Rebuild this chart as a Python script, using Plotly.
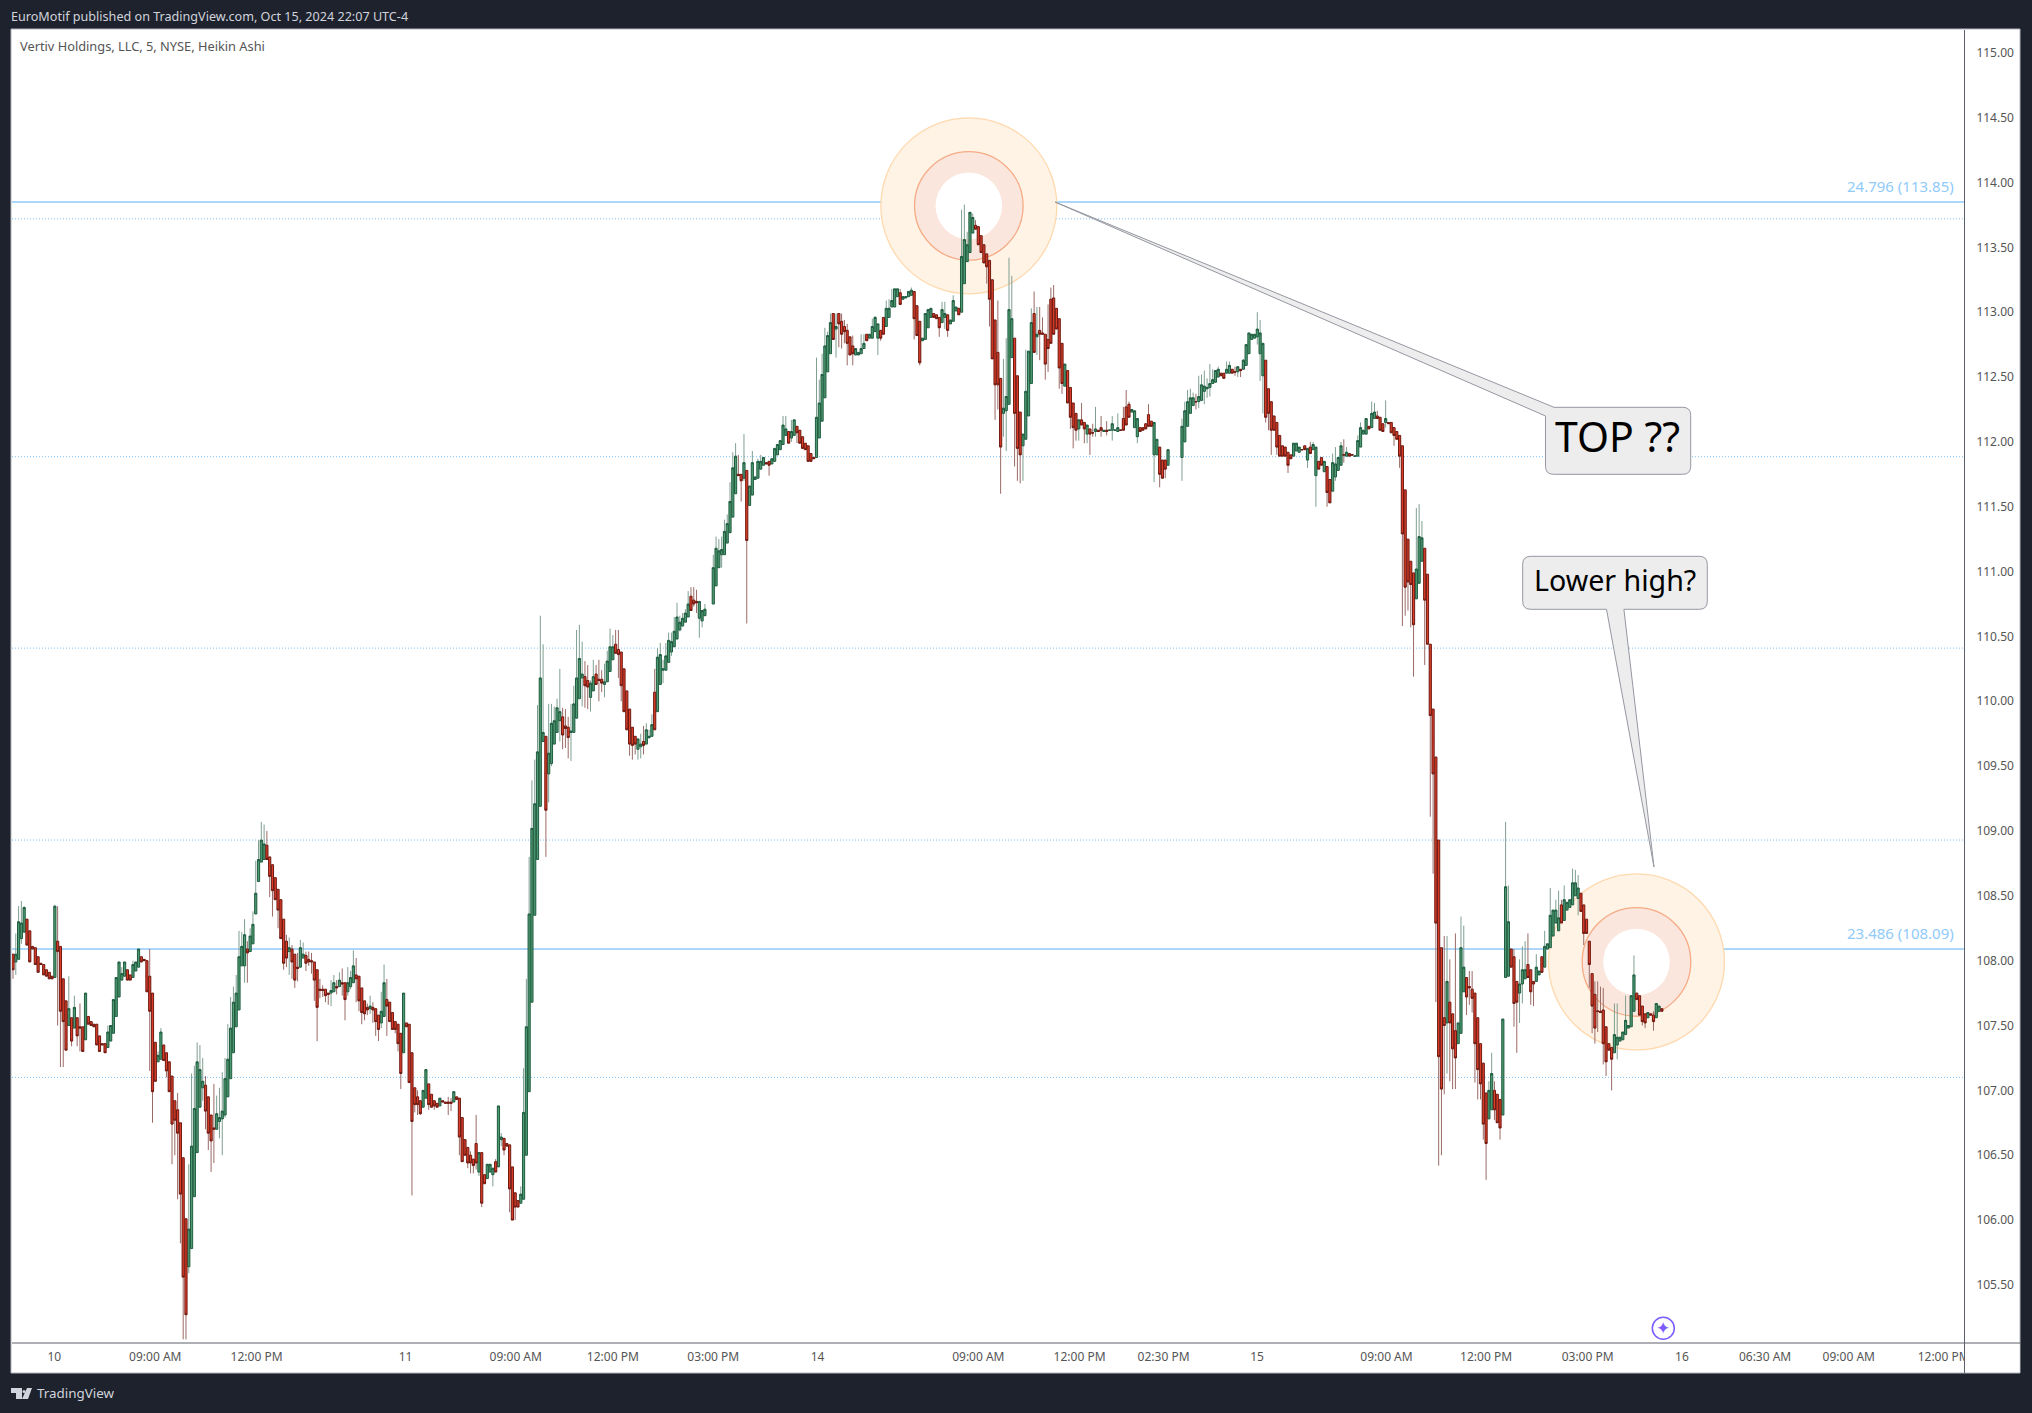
import numpy as np
import plotly.graph_objects as go

_ = None

# ---- Oct 10 -------------------------------------------------------------
s1_start = 0
s1_dir = "RGGGGRRRRR" "RRRRRGRRRR" "GRGRRRGRRR" "RRRRGGGGGG" "GRRGGGRRRR" "RRGGRRRRRR" "RRRGGGGGGR" "RRRGGGGGGG" "GGGGRGGGGG" "GRRRRRRRRG" "RRR"
s1_top = [108.05,108.05,108.30,108.29,108.41,108.32,108.23,108.11,108.10,108.03,
107.98,107.97,107.93,107.91,107.88,108.42,108.15,108.11,107.86,107.69,
107.63,107.56,107.64,107.56,107.49,107.49,107.75,107.57,107.53,107.51,
107.51,107.42,107.36,107.36,107.45,107.50,107.70,107.87,107.99,107.90,
107.99,107.93,107.89,107.97,107.99,108.09,108.03,108.01,108.00,107.88,
107.75,107.37,107.27,107.45,107.35,107.29,107.22,107.11,106.92,106.85,
106.75,106.48,106.01,105.93,106.57,106.86,107.22,107.16,107.07,107.04,
106.95,106.81,106.71,106.82,106.79,106.84,107.09,107.24,107.48,107.68,
107.75,108.03,108.11,108.20,108.09,108.19,108.28,108.52,108.78,108.93,
108.90,108.89,108.80,108.74,108.64,108.55,108.47,108.32,108.15,108.10,
108.09,108.05,107.95]
s1_bot = [107.93,107.99,108.01,108.17,108.22,108.12,107.99,108.09,107.97,107.91,
107.97,107.89,107.88,107.86,107.86,107.87,108.07,107.61,107.53,107.31,
107.50,107.38,107.48,107.42,107.48,107.30,107.39,107.51,107.50,107.49,
107.35,107.30,107.35,107.29,107.33,107.38,107.44,107.57,107.72,107.85,
107.88,107.85,107.85,107.87,107.92,107.95,107.99,108.00,107.76,107.61,
106.99,107.07,107.22,107.24,107.23,107.15,106.99,106.74,106.77,106.67,
106.20,105.56,105.27,105.64,105.78,106.18,106.52,106.87,107.02,106.84,
106.67,106.61,106.70,106.70,106.76,106.78,106.81,106.95,107.09,107.29,
107.49,107.62,107.96,107.96,108.06,108.07,108.13,108.36,108.61,108.76,
108.78,108.78,108.65,108.54,108.47,108.39,108.17,107.98,108.02,108.07,
107.99,107.85,107.94]
s1_high = [_,108.21,108.42,108.46,108.42,_,_,_,_,_,
_,_,_,_,_,108.43,108.42,_,_,_,
107.88,_,107.73,_,107.67,_,_,_,_,_,
_,_,_,_,107.50,_,_,_,_,107.95,
_,_,_,108.00,_,_,_,_,_,108.09,
_,_,107.30,107.48,_,_,_,_,_,106.98,
_,_,_,106.43,107.13,107.19,107.37,107.35,107.25,107.11,
_,_,107.05,106.96,107.02,107.14,107.25,107.51,107.72,107.80,
107.89,108.23,108.22,108.32,108.15,108.25,108.38,108.77,108.93,109.07,
109.05,109.00,_,_,_,_,_,_,108.20,108.18,
108.12,_,108.06]
s1_low = [107.86,107.89,_,108.13,_,_,_,_,_,_,
_,_,_,_,_,_,107.50,107.18,107.18,_,
_,107.34,_,107.34,107.30,_,_,_,_,_,
_,_,_,_,_,_,_,_,_,_,
_,_,_,_,_,_,_,_,_,107.15,
106.75,_,_,_,_,107.10,_,106.43,106.50,106.16,
105.82,105.08,105.08,105.59,_,_,_,_,106.92,106.70,
106.54,106.37,106.44,_,106.63,106.50,106.79,_,_,_,
_,_,_,107.83,107.83,_,_,_,_,_,
_,_,108.49,108.34,_,108.25,_,107.93,107.95,107.89,
107.86,107.79,107.84]

# ---- Oct 10 close to Oct 11 open ----------------------------------------
s2_start = 103
s2_dir = "GGRRRRRRRR" "RGGRGRRGGG" "RRRRRGRRRG" "GRRRRRRGRR" "RRRRGGRRRR" "GRRRRGRRRR" "RRRRGRRGGG" "RGGRRRRRRG" "GGGGG"
s2_top = [108.10,108.05,108.04,108.01,108.00,107.99,107.93,107.78,107.78,107.78,
107.75,107.77,107.83,107.80,107.85,107.83,107.83,107.83,107.87,107.96,
107.89,107.88,107.79,107.69,107.64,107.65,107.64,107.63,107.58,107.61,
107.83,107.70,107.68,107.60,107.53,107.51,107.44,107.75,107.52,107.51,
107.29,107.02,106.95,106.92,107.00,107.16,107.05,106.97,106.92,106.90,
106.94,106.92,106.91,106.91,106.91,106.99,106.95,106.94,106.79,106.62,
106.56,106.50,106.47,106.59,106.52,106.52,106.35,106.43,106.43,106.40,
106.45,106.88,106.64,106.63,106.59,106.58,106.41,106.21,106.15,106.20,
106.83,107.49,108.36,109.02,109.21]
s2_bot = [107.95,108.02,107.98,107.99,107.99,107.85,107.64,107.77,107.77,107.73,
107.74,107.75,107.76,107.79,107.80,107.82,107.70,107.76,107.80,107.83,
107.86,107.69,107.60,107.59,107.62,107.63,107.62,107.53,107.47,107.52,
107.57,107.65,107.53,107.47,107.47,107.36,107.13,107.29,107.49,107.06,
106.76,106.89,106.89,106.82,106.87,106.94,106.89,106.87,106.88,106.87,
106.88,106.91,106.90,106.90,106.90,106.91,106.93,106.64,106.45,106.50,
106.44,106.44,106.42,106.44,106.37,106.13,106.28,106.32,106.37,106.35,
106.37,106.41,106.62,106.54,106.57,106.24,106.00,106.10,106.10,106.13,
106.16,106.50,106.99,107.68,108.35]
s2_high = [108.16,108.14,108.07,108.07,108.06,_,_,107.86,107.81,_,
_,107.85,107.89,107.85,107.91,107.94,_,107.95,107.92,108.08,
108.02,_,_,_,107.67,107.73,107.68,_,_,107.76,
107.97,107.86,_,_,_,_,_,_,_,_,
_,_,107.00,_,_,_,_,_,_,_,
_,_,_,106.95,106.94,_,_,_,_,_,
_,106.53,_,106.81,_,_,_,_,_,_,
106.47,_,106.67,_,_,_,_,_,_,106.26,
107.17,107.86,108.80,109.39,109.55]
s2_low = [_,_,107.92,107.96,107.90,107.69,107.38,107.71,107.72,107.68,
107.66,107.65,_,107.74,_,107.73,107.54,107.73,107.78,_,
107.68,107.61,107.51,107.54,107.58,107.59,107.52,107.42,107.38,107.48,
_,107.42,_,_,107.44,107.30,107.01,_,_,_,
106.19,106.83,106.81,106.81,_,_,106.85,_,106.85,_,
_,_,_,106.81,106.84,_,_,106.50,_,_,
106.40,106.36,106.36,106.39,106.34,106.10,_,_,_,106.26,
_,_,106.57,106.50,_,106.06,_,106.00,_,_,
_,_,_,_,_]

# ---- Oct 11 midday ------------------------------------------------------
s3_start = 188
s3_dir = "GGGRGGGGGR" "RRGGGGGRRG" "GRRRGGGGRR" "RRRRRRGGRG" "GGRGGGGGGG" "GGGGGRRRGG" "G"
s3_top = [109.61,110.18,109.76,109.73,109.60,109.83,109.85,109.95,109.92,109.88,
109.81,109.80,109.77,109.98,110.18,110.33,110.21,110.19,110.16,110.14,
110.19,110.21,110.17,110.17,110.15,110.31,110.42,110.42,110.44,110.40,
110.38,110.25,110.08,109.94,109.80,109.73,109.71,109.67,109.69,109.78,
109.73,109.82,110.07,110.34,110.36,110.25,110.35,110.47,110.46,110.54,
110.65,110.61,110.64,110.68,110.75,110.81,110.78,110.77,110.77,110.70,
110.71,110.70,110.81]
s3_bot = [108.78,109.19,109.69,109.16,109.44,109.52,109.67,109.76,109.85,109.74,
109.79,109.72,109.76,109.76,109.87,110.02,110.18,110.12,110.11,110.03,
110.08,110.13,110.16,110.14,110.13,110.15,110.23,110.32,110.37,110.36,
110.12,109.92,109.78,109.67,109.66,109.67,109.63,109.65,109.66,109.67,
109.72,109.73,109.78,109.92,110.13,110.24,110.24,110.30,110.38,110.42,
110.48,110.55,110.58,110.61,110.65,110.70,110.75,110.76,110.64,110.62,
110.66,110.68,110.69]
s3_high = [109.97,110.66,110.44,_,109.98,109.98,109.96,110.02,110.25,109.95,
109.94,109.88,109.98,110.12,110.55,110.59,110.46,110.31,110.28,110.16,
110.32,110.28,110.32,110.24,110.29,110.39,110.56,110.51,110.55,110.55,
_,_,_,_,_,_,_,109.75,109.81,109.83,
109.78,109.90,110.25,110.41,110.45,110.32,110.45,110.53,110.53,110.65,
110.76,110.66,110.68,110.71,110.85,110.88,110.88,110.86,_,_,
110.75,110.75,110.88]
s3_low = [_,_,_,108.80,109.22,109.50,_,_,109.69,109.63,
109.64,109.56,109.54,_,_,_,109.96,109.95,109.94,109.92,
_,_,110.00,110.07,110.03,_,_,_,_,110.18,
110.00,_,_,109.58,109.55,109.59,109.55,109.56,109.59,_,
109.71,_,_,_,_,110.14,_,_,110.35,_,
_,110.54,_,_,_,_,110.73,110.68,110.49,110.57,
_,110.65,_]

# ---- Oct 11 close to Oct 14 morning -------------------------------------
s4_start = 251
s4_dir = "GGGGGGGGGR" "RGRGGGGGGR" "RGGGGGGRGG" "RRRRRRRGGG" "GGGRGRRRRR" "RGGGGRGGGG" "RRG"
s4_top = [111.03,111.18,111.16,111.17,111.31,111.37,111.54,111.80,111.89,111.75,
111.75,111.84,111.78,111.66,111.84,111.73,111.85,111.85,111.88,111.84,
111.85,111.87,111.95,111.98,112.01,112.13,112.10,112.08,112.08,112.17,
112.12,112.09,112.04,111.99,111.97,111.91,111.88,112.19,112.30,112.52,
112.74,112.82,112.92,112.99,112.89,112.99,112.93,112.89,112.86,112.81,
112.74,112.72,112.69,112.72,112.76,112.83,112.83,112.89,112.96,112.91,
112.86,112.96,113.03]
s4_bot = [110.75,110.89,111.03,111.13,111.13,111.22,111.30,111.42,111.60,111.74,
111.70,111.72,111.24,111.51,111.59,111.71,111.72,111.79,111.82,111.83,
111.82,111.83,111.85,111.90,111.94,111.98,112.05,111.99,112.03,112.05,
112.07,111.99,111.95,111.94,111.85,111.85,111.87,111.88,112.03,112.16,
112.34,112.54,112.68,112.79,112.87,112.91,112.83,112.85,112.76,112.67,
112.68,112.67,112.67,112.68,112.72,112.78,112.80,112.80,112.85,112.80,
112.80,112.83,112.89]
s4_high = [111.13,111.27,111.25,111.27,111.40,111.44,111.69,111.92,111.99,111.90,
_,112.06,_,_,111.93,_,111.87,111.90,_,_,
_,_,_,_,_,112.20,112.20,_,112.17,_,
_,_,_,_,_,_,_,112.65,112.48,112.68,
112.88,112.85,112.99,_,112.99,_,112.99,112.94,112.91,_,
112.82,_,_,112.83,112.83,_,_,112.95,112.97,_,
_,_,113.09]
s4_low = [_,_,_,111.03,_,_,_,_,_,_,
111.54,111.70,110.60,_,_,_,_,_,_,_,
111.74,_,_,_,_,_,_,_,112.00,_,
111.99,_,_,_,_,_,_,_,_,_,
_,_,_,_,112.65,112.73,112.72,112.76,112.59,_,
112.59,_,_,_,_,_,_,_,_,112.67,
112.78,_,_]

# ---- Oct 14 session -----------------------------------------------------
s5_start = 314
s5_dir = "GGGGRGGGGR" "RRGGGGRRRG" "GRGGGRGGGG" "GRRRRRRRRR" "RGGGGRRRGG" "GGRGRRRRRR" "RRRGRRRRGR" "RGRRGRRGRG" "GGGRRRRGGG" "RRRRRGGRRR" "G"
s5_top = [113.03,113.09,113.18,113.18,113.15,113.12,113.12,113.16,113.17,113.16,
113.05,112.93,112.80,112.99,113.02,113.03,112.99,112.98,112.96,113.02,
112.99,112.98,112.94,113.09,113.04,113.03,113.43,113.56,113.52,113.77,
113.73,113.67,113.66,113.59,113.52,113.45,113.40,113.25,112.94,112.69,
112.49,112.26,112.35,113.02,112.95,112.80,112.51,112.23,112.06,112.39,
112.70,112.92,112.99,112.83,112.86,112.84,112.83,112.79,113.10,113.11,
113.03,112.95,112.76,112.60,112.55,112.42,112.30,112.22,112.17,112.17,
112.15,112.13,112.10,112.07,112.10,112.09,112.11,112.09,112.09,112.09,
112.14,112.09,112.11,112.09,112.18,112.27,112.29,112.25,112.24,112.18,
112.11,112.11,112.14,112.21,112.16,112.15,112.02,111.96,111.86,111.86,
111.94,111.88,111.88,111.84,111.92]
s5_bot = [112.96,113.04,113.04,113.12,113.06,113.10,113.11,113.12,113.13,112.95,
112.82,112.61,112.78,112.79,112.88,112.96,112.96,112.95,112.88,112.92,
112.96,112.86,112.91,112.93,113.01,112.98,113.00,113.22,113.39,113.46,
113.61,113.64,113.52,113.46,113.38,113.35,113.10,112.64,112.44,112.44,
111.96,112.22,112.24,112.29,112.65,112.22,111.95,111.90,111.97,112.02,
112.20,112.45,112.69,112.81,112.83,112.83,112.60,112.72,112.76,112.83,
112.87,112.57,112.45,112.43,112.30,112.19,112.11,112.09,112.10,112.13,
112.10,112.06,112.06,112.07,112.08,112.08,112.09,112.08,112.08,112.09,
112.09,112.09,112.08,112.09,112.09,112.13,112.19,112.23,112.11,112.04,
112.08,112.09,112.10,112.12,112.12,111.90,111.90,111.75,111.72,111.79,
111.82,111.88,111.81,111.81,111.83]
s5_high = [113.10,113.18,_,_,113.18,_,_,_,113.19,_,
_,_,_,_,_,_,_,_,_,113.08,
113.08,_,_,113.13,_,_,113.79,113.83,113.62,_,
113.76,113.71,_,_,_,_,_,_,_,113.09,
_,112.64,112.80,113.42,113.28,_,_,_,_,112.71,
_,113.03,113.16,113.04,113.04,112.96,_,113.06,113.19,113.21,
_,_,_,_,_,_,_,_,_,112.30,
_,_,_,112.14,112.27,_,112.20,_,112.16,_,
112.20,_,112.22,_,112.27,112.40,112.31,_,_,_,
_,_,_,112.29,_,_,_,_,_,_,
_,_,111.98,_,_]
s5_low = [_,_,_,_,_,_,_,_,_,112.79,
_,112.59,_,_,_,_,_,_,112.81,_,
112.87,112.81,_,_,_,_,_,_,_,_,
_,_,_,_,_,113.22,112.89,_,112.17,112.25,
111.60,112.04,111.93,_,_,111.81,111.70,111.68,111.70,_,
_,_,_,112.67,112.63,_,112.48,112.54,_,_,
_,112.41,112.37,_,_,112.10,111.95,112.01,112.01,_,
111.99,111.99,111.90,112.04,112.04,_,112.04,_,112.05,_,
112.01,_,_,_,_,_,_,_,_,111.99,
_,_,_,_,_,111.69,_,111.65,_,111.72,
_,_,_,111.66,_]

# ---- Oct 14 close to Oct 15 midday --------------------------------------
s6_start = 419
s6_dir = "GGGGGRGGGG" "GGGGRRGGRR" "GRGGGGGGGG" "RRRRRRRRRR" "GGGRRGRGGR" "RGRRGGGGRG" "RRGGGGGRGG" "RRRGRRRRRR" "RRRRGGGR"
s6_top = [112.12,112.24,112.31,112.34,112.34,112.31,112.35,112.44,112.43,112.42,
112.45,112.48,112.55,112.56,112.53,112.53,112.56,112.59,112.56,112.54,
112.58,112.56,112.63,112.75,112.84,112.83,112.83,112.87,112.84,112.76,
112.63,112.41,112.31,112.20,112.15,112.05,111.97,111.96,111.92,111.90,
111.99,111.99,111.96,111.94,111.97,111.95,111.96,111.98,111.96,111.85,
111.88,111.85,111.81,111.71,111.84,111.83,111.88,111.97,111.90,111.92,
111.91,111.90,111.89,112.01,112.11,112.09,112.18,112.12,112.22,112.23,
112.20,112.19,112.14,112.18,112.15,112.15,112.11,112.08,112.05,111.97,
111.63,111.25,111.08,110.99,111.02,111.27,111.26,111.18]
s6_bot = [111.88,112.00,112.12,112.22,112.28,112.31,112.31,112.32,112.39,112.41,
112.42,112.45,112.46,112.50,112.51,112.49,112.53,112.53,112.53,112.54,
112.54,112.55,112.56,112.59,112.68,112.79,112.80,112.81,112.68,112.51,
112.19,112.22,112.09,112.09,111.96,111.89,111.89,111.89,111.82,111.87,
111.89,111.93,111.92,111.94,111.94,111.86,111.91,111.94,111.74,111.79,
111.82,111.77,111.61,111.53,111.62,111.73,111.78,111.82,111.90,111.89,
111.89,111.90,111.89,111.89,111.96,112.06,112.06,112.10,112.11,112.18,
112.18,112.09,112.08,112.15,112.14,112.07,112.05,112.02,111.89,111.29,
110.88,110.92,110.90,110.59,110.79,110.91,111.08,110.78]
s6_high = [112.18,112.31,112.40,112.41,112.38,112.37,112.51,112.52,112.55,112.49,
112.60,112.56,_,112.58,_,_,112.62,112.62,_,112.58,
_,_,112.64,_,_,_,_,113.00,112.94,_,
_,_,_,_,_,_,_,_,_,_,
_,_,_,_,_,_,112.00,112.00,_,_,
_,_,_,_,111.91,111.96,_,112.00,112.02,111.96,
_,_,_,112.05,112.15,_,_,_,112.31,112.30,
112.24,_,_,112.32,_,_,_,_,_,_,
_,_,_,_,111.49,111.52,111.39,_]
s6_low = [111.70,_,_,_,_,112.25,112.26,_,112.29,112.34,
112.35,_,_,_,_,_,_,_,_,112.51,
112.50,112.50,_,_,_,_,_,112.75,112.47,112.22,
112.15,112.09,111.90,_,111.90,_,_,_,111.76,_,
_,_,_,_,_,111.80,_,_,111.50,_,
_,_,111.50,_,_,111.70,_,_,111.84,_,
_,_,_,_,_,_,_,_,_,_,
_,_,_,112.11,_,_,111.97,_,111.80,110.58,
110.66,110.70,110.57,110.19,_,_,_,110.28]

# ---- Oct 15 afternoon ---------------------------------------------------
s7_start = 507
s7_dir = "RRRRRRRG" "RRRGGGRRRR" "RRRRGGRRRG" "GGRRRGGGRR" "RGGRGGGGGG" "RGGGGGGRRR" "R"
s7_top = [110.98,110.44,109.94,109.57,108.93,108.10,107.56,107.84,
107.68,107.59,107.46,107.52,108.10,107.95,107.87,107.80,107.78,107.75,
107.56,107.36,107.21,106.98,107.00,107.13,107.00,106.97,106.93,107.55,
108.57,108.30,108.09,108.03,107.84,107.82,107.93,107.93,107.97,107.93,
107.84,107.95,107.92,108.03,108.11,108.13,108.35,108.39,108.39,108.33,
108.43,108.47,108.45,108.47,108.60,108.60,108.56,108.52,108.43]
s7_bot = [110.44,109.89,109.44,108.29,107.26,107.01,107.50,107.52,
107.52,107.32,107.25,107.36,107.44,107.76,107.72,107.79,107.71,107.36,
107.16,107.05,106.74,106.59,106.78,106.85,106.85,106.75,106.71,106.81,
107.87,107.88,107.95,107.67,107.68,107.75,107.82,107.86,107.87,107.76,
107.82,107.84,107.89,107.91,107.95,108.09,108.10,108.19,108.29,108.23,
108.29,108.31,108.39,108.41,108.43,108.50,108.48,108.38,108.21]
s7_high = [_,_,_,_,_,_,108.19,108.19,
108.01,_,108.21,_,108.34,108.27,_,107.92,107.92,_,
_,_,_,_,107.07,107.29,107.07,_,_,_,
109.07,108.58,_,108.09,_,108.01,108.11,108.15,108.21,_,
_,108.05,_,_,108.23,_,108.56,_,108.47,108.54,
108.47,108.58,_,_,108.71,108.70,108.66,_,_]
s7_low = [_,109.11,108.67,107.68,106.42,106.50,106.97,107.13,
107.07,107.01,107.01,_,_,_,107.58,107.66,107.60,107.06,
106.93,106.93,106.62,106.31,_,_,106.77,_,106.62,_,
_,_,_,107.49,107.29,107.52,107.67,_,_,107.66,
107.65,_,_,_,_,_,_,_,_,_,
_,_,_,_,_,_,108.35,_,108.12]

# ---- Oct 15 last bars ---------------------------------------------------
s8_start = 564
s8_dir = "RRRRRRRRRR" "GGGGGGGGRR" "RRGRRGGR"
s8_top = [108.32,108.15,107.90,107.74,107.61,107.61,107.62,107.49,107.36,107.33,
107.43,107.41,107.41,107.45,107.54,107.50,107.73,107.89,107.75,107.73,
107.65,107.59,107.60,107.59,107.58,107.67,107.65,107.63]
s8_bot = [108.21,107.97,107.65,107.48,107.61,107.60,107.36,107.22,107.31,107.24,
107.29,107.35,107.38,107.39,107.43,107.48,107.49,107.61,107.70,107.58,
107.53,107.52,107.56,107.58,107.53,107.56,107.61,107.61]
s8_high = [_,_,_,107.84,107.84,107.80,107.79,_,_,_,
107.67,107.67,_,_,107.73,_,_,108.04,_,_,
_,_,_,_,107.61,_,_,_]
s8_low = [_,107.79,107.44,107.36,107.45,_,107.20,107.11,_,107.00,
_,107.24,_,_,_,_,_,_,_,_,
107.50,107.48,_,_,107.46,_,_,_]

segments = [
    (s1_start, s1_dir, s1_top, s1_bot, s1_high, s1_low),
    (s2_start, s2_dir, s2_top, s2_bot, s2_high, s2_low),
    (s3_start, s3_dir, s3_top, s3_bot, s3_high, s3_low),
    (s4_start, s4_dir, s4_top, s4_bot, s4_high, s4_low),
    (s5_start, s5_dir, s5_top, s5_bot, s5_high, s5_low),
    (s6_start, s6_dir, s6_top, s6_bot, s6_high, s6_low),
    (s7_start, s7_dir, s7_top, s7_bot, s7_high, s7_low),
    (s8_start, s8_dir, s8_top, s8_bot, s8_high, s8_low),
]

# axis labels
x_tick_bars = [14.8, 51, 87.3, 140.7, 180.2, 215, 251, 288.4, 346, 382.3, 412.4, 445.9, 492.3, 528, 564.4, 598.2, 628, 658, 692]
x_tick_text = ["10", "09:00 AM", "12:00 PM", "11", "09:00 AM", "12:00 PM", "03:00 PM", "14", "09:00 AM", "12:00 PM",
               "02:30 PM", "15", "09:00 AM", "12:00 PM", "03:00 PM", "16", "06:30 AM", "09:00 AM", "12:00 PM"]
y_ticks = [105.5 + 0.5 * k for k in range(20)]

solid_levels = [113.85, 108.09]
solid_labels = ["24.796 (113.85)", "23.486 (108.09)"]
dotted_levels = [113.72, 111.886, 110.41, 108.93, 107.10]
ring_centers = [(342.6, 113.82), (581.9, 107.99)]

# page geometry, in pixels of the 2032 x 1413 window
L, R, T, B = 12, 1964, 30, 1343
PANEL_R, PANEL_B = 2020, 1373
BAR_PX = 2.79
PRICE_PX = 129.7
DARK = "#1e222d"
FONT = "Noto Sans"


def px(x):
    return (x - L) / (R - L)


def py(y):
    return 1 - (y - T) / (B - T)


def P(a, b):
    return f"{px(a):.5f} {py(b):.5f}"


def polygon(points):
    return "M " + " L ".join(P(a, b) for a, b in points) + " Z"


def callout_top(l, t, r, b, start, tip, end, rad=8):
    """Rounded box whose pointer leaves at its top-left corner."""
    return (f"M {P(*start)} L {P(*tip)} L {P(*end)} L {P(l, b - rad)} Q {P(l, b)} {P(l + rad, b)} "
            f"L {P(r - rad, b)} Q {P(r, b)} {P(r, b - rad)} L {P(r, t + rad)} Q {P(r, t)} {P(r - rad, t)} Z")


def callout_bottom(l, t, r, b, p0, tip, p1, rad=8):
    """Rounded box whose pointer leaves its lower edge."""
    return (f"M {P(l + rad, t)} L {P(r - rad, t)} Q {P(r, t)} {P(r, t + rad)} L {P(r, b - rad)} Q {P(r, b)} {P(r - rad, b)} "
            f"L {P(*p1)} L {P(*tip)} L {P(*p0)} L {P(l + rad, b)} Q {P(l, b)} {P(l, b - rad)} "
            f"L {P(l, t + rad)} Q {P(l, t)} {P(l + rad, t)} Z")


xs, dirs, tops, bots, highs, lows = [], [], [], [], [], []
for start, d, t, b, h, l in segments:
    n = min(len(d), len(t), len(b), len(h), len(l))
    for k in range(n):
        xs.append(start + k)
        dirs.append(d[k])
        tops.append(t[k])
        bots.append(b[k])
        highs.append(h[k] if h[k] is not None else t[k])
        lows.append(l[k] if l[k] is not None else b[k])

xs = np.array(xs, float)
tops = np.array(tops)
bots = np.array(bots)
highs = np.maximum(np.array(highs), tops)
lows = np.minimum(np.array(lows), bots)
up = np.array([c == "G" for c in dirs])
opens = np.where(up, bots, tops)
closes = np.where(up, tops, bots)

fig = go.Figure()


def candle(mask, high, low, line, fill, o=None, c=None):
    fig.add_trace(go.Candlestick(
        x=xs[mask],
        open=opens[mask] if o is None else o[mask],
        close=closes[mask] if c is None else c[mask],
        high=high[mask], low=low[mask],
        increasing=dict(line=dict(color=line, width=1), fillcolor=fill),
        decreasing=dict(line=dict(color=line, width=1), fillcolor=fill),
        whiskerwidth=0, showlegend=False, hoverinfo="skip",
    ))


mid = (tops + bots) / 2
# wicks first, hidden behind the bodies
candle(up, highs, lows, "#7f9f91", "#7f9f91", mid, mid)
candle(~up, highs, lows, "#9a6a66", "#9a6a66", mid, mid)
# bodies
candle(up, tops, bots, "#1f5c41", "#4f9a70")
candle(~up, tops, bots, "#6e1a12", "#dd3d28")

shapes = []
# panels
shapes.append(dict(type="rect", xref="paper", yref="paper", layer="below",
                   x0=px(L - 1), x1=px(PANEL_R), y0=py(PANEL_B), y1=py(T - 1),
                   fillcolor="white", line=dict(color="#b2b5be", width=1)))
# rings
for cx, cp in ring_centers:
    for rad, fill, edge in [(88, "#fff3e6", "#ffd9ae"), (54.3, "#fbe6dd", "#f5ab85"), (33.3, "#ffffff", "rgba(0,0,0,0)")]:
        shapes.append(dict(type="circle", xref="x", yref="y", layer="below",
                           x0=cx - rad / BAR_PX, x1=cx + rad / BAR_PX,
                           y0=cp - rad / PRICE_PX, y1=cp + rad / PRICE_PX,
                           fillcolor=fill, line=dict(color=edge, width=1.3)))
# price levels
for lv in dotted_levels:
    shapes.append(dict(type="line", xref="paper", yref="y", layer="below", x0=0, x1=1, y0=lv, y1=lv,
                       line=dict(color="#7cc0f5", width=1, dash="1px,2px")))
for lv in solid_levels:
    shapes.append(dict(type="line", xref="paper", yref="y", layer="below", x0=0, x1=1, y0=lv, y1=lv,
                       line=dict(color="#90caf9", width=1.6)))
# axis rules
shapes.append(dict(type="rect", xref="paper", yref="paper", layer="above", x0=px(R + 0.5), x1=px(PANEL_R - 0.5),
                   y0=py(PANEL_B - 1), y1=py(B + 1), fillcolor="white", line=dict(width=0)))
shapes.append(dict(type="line", xref="paper", yref="paper", layer="above", x0=px(R + 0.5), x1=px(R + 0.5),
                   y0=py(PANEL_B), y1=py(T), line=dict(color="#5d606b", width=1)))
shapes.append(dict(type="line", xref="paper", yref="paper", layer="above", x0=px(L), x1=px(PANEL_R),
                   y0=py(B), y1=py(B), line=dict(color="#5d606b", width=1)))
# callouts
shapes.append(dict(type="path", xref="paper", yref="paper", layer="above",
                   path=callout_top(1545.5, 407.3, 1690.7, 474.3, (1554, 407.3), (1055, 202), (1545.5, 416)),
                   fillcolor="#ededed", line=dict(color="#9598a1", width=1)))
shapes.append(dict(type="path", xref="paper", yref="paper", layer="above",
                   path=callout_bottom(1522.7, 556.3, 1707.3, 609.3, (1606.5, 609.3), (1654, 867), (1623.9, 609.3)),
                   fillcolor="#ededed", line=dict(color="#9598a1", width=1)))
# marker icon at the right of the last bar
shapes.append(dict(type="circle", xref="paper", yref="paper", layer="above",
                   x0=px(1652.3), x1=px(1674.3), y0=py(1339.3), y1=py(1317.3),
                   fillcolor="white", line=dict(color="#7b5cff", width=1.5)))
# TradingView mark
shapes.append(dict(type="path", xref="paper", yref="paper", layer="above", fillcolor="#d1d4dc", line=dict(width=0),
                   path=polygon([(11, 1388), (22, 1388), (22, 1399), (16, 1399), (16, 1393), (11, 1393)])))
shapes.append(dict(type="circle", xref="paper", yref="paper", layer="above", fillcolor="#d1d4dc", line=dict(width=0),
                   x0=px(22.5), x1=px(25.5), y0=py(1393), y1=py(1390)))
shapes.append(dict(type="path", xref="paper", yref="paper", layer="above", fillcolor="#d1d4dc", line=dict(width=0),
                   path=polygon([(27, 1388), (32, 1388), (28, 1399), (22, 1399)])))


def note(text, x, y, size, color, anchor="left"):
    return dict(text=text, xref="paper", yref="paper", x=px(x), y=py(y), xanchor=anchor, yanchor="middle",
                showarrow=False, font=dict(family=FONT, size=size, color=color))


annotations = [
    note("EuroMotif published on TradingView.com, Oct 15, 2024 22:07 UTC-4", 9, 16, 12.6, "#d1d4dc"),
    note("Vertiv Holdings, LLC, 5, NYSE, Heikin Ashi", 18, 46, 12.8, "#555555"),
    note(solid_labels[0], 1956, 186.5, 15, "#90caf9", "right"),
    note(solid_labels[1], 1956, 933.5, 15, "#90caf9", "right"),
    note("TOP ??", 1617, 436, 41, "#000000", "center"),
    note("Lower high?", 1615, 579, 28.6, "#000000", "center"),
    dict(text="✦", xref="paper", yref="paper", x=px(1663.3), y=py(1328.3), xanchor="center", yanchor="middle",
         showarrow=False, font=dict(family="DejaVu Sans", size=17, color="#7b5cff")),
    note("TradingView", 35, 1393, 13.4, "#d1d4dc"),
]

fig.update_layout(
    width=2032, height=1413, autosize=False,
    margin=dict(l=L, r=2032 - R, t=T, b=1413 - B),
    paper_bgcolor=DARK, plot_bgcolor="rgba(0,0,0,0)",
    showlegend=False, hovermode=False, boxmode="overlay", boxgap=0.22, boxgroupgap=0,
    shapes=shapes, annotations=annotations,
    font=dict(family=FONT, size=12, color="#555555"),
    xaxis=dict(range=[-0.36, 699.3], rangeslider=dict(visible=False), showgrid=False, zeroline=False,
               tickmode="array", tickvals=x_tick_bars, ticktext=x_tick_text, ticks="outside", ticklen=3,
               tickcolor="rgba(0,0,0,0)", tickfont=dict(family=FONT, size=12, color="#555555"), showline=False),
    yaxis=dict(range=[105.052, 115.176], side="right", showgrid=False, zeroline=False,
               tickmode="array", tickvals=y_ticks, ticktext=[f"{v:.2f}" for v in y_ticks], ticks="outside", ticklen=9,
               tickcolor="rgba(0,0,0,0)", tickfont=dict(family=FONT, size=12, color="#555555"), showline=False),
)

fig.write_html("out.html", config=dict(displayModeBar=False),
               post_script="document.body.style.margin='0';document.body.style.background='#1e222d';document.documentElement.style.overflow='hidden';")
